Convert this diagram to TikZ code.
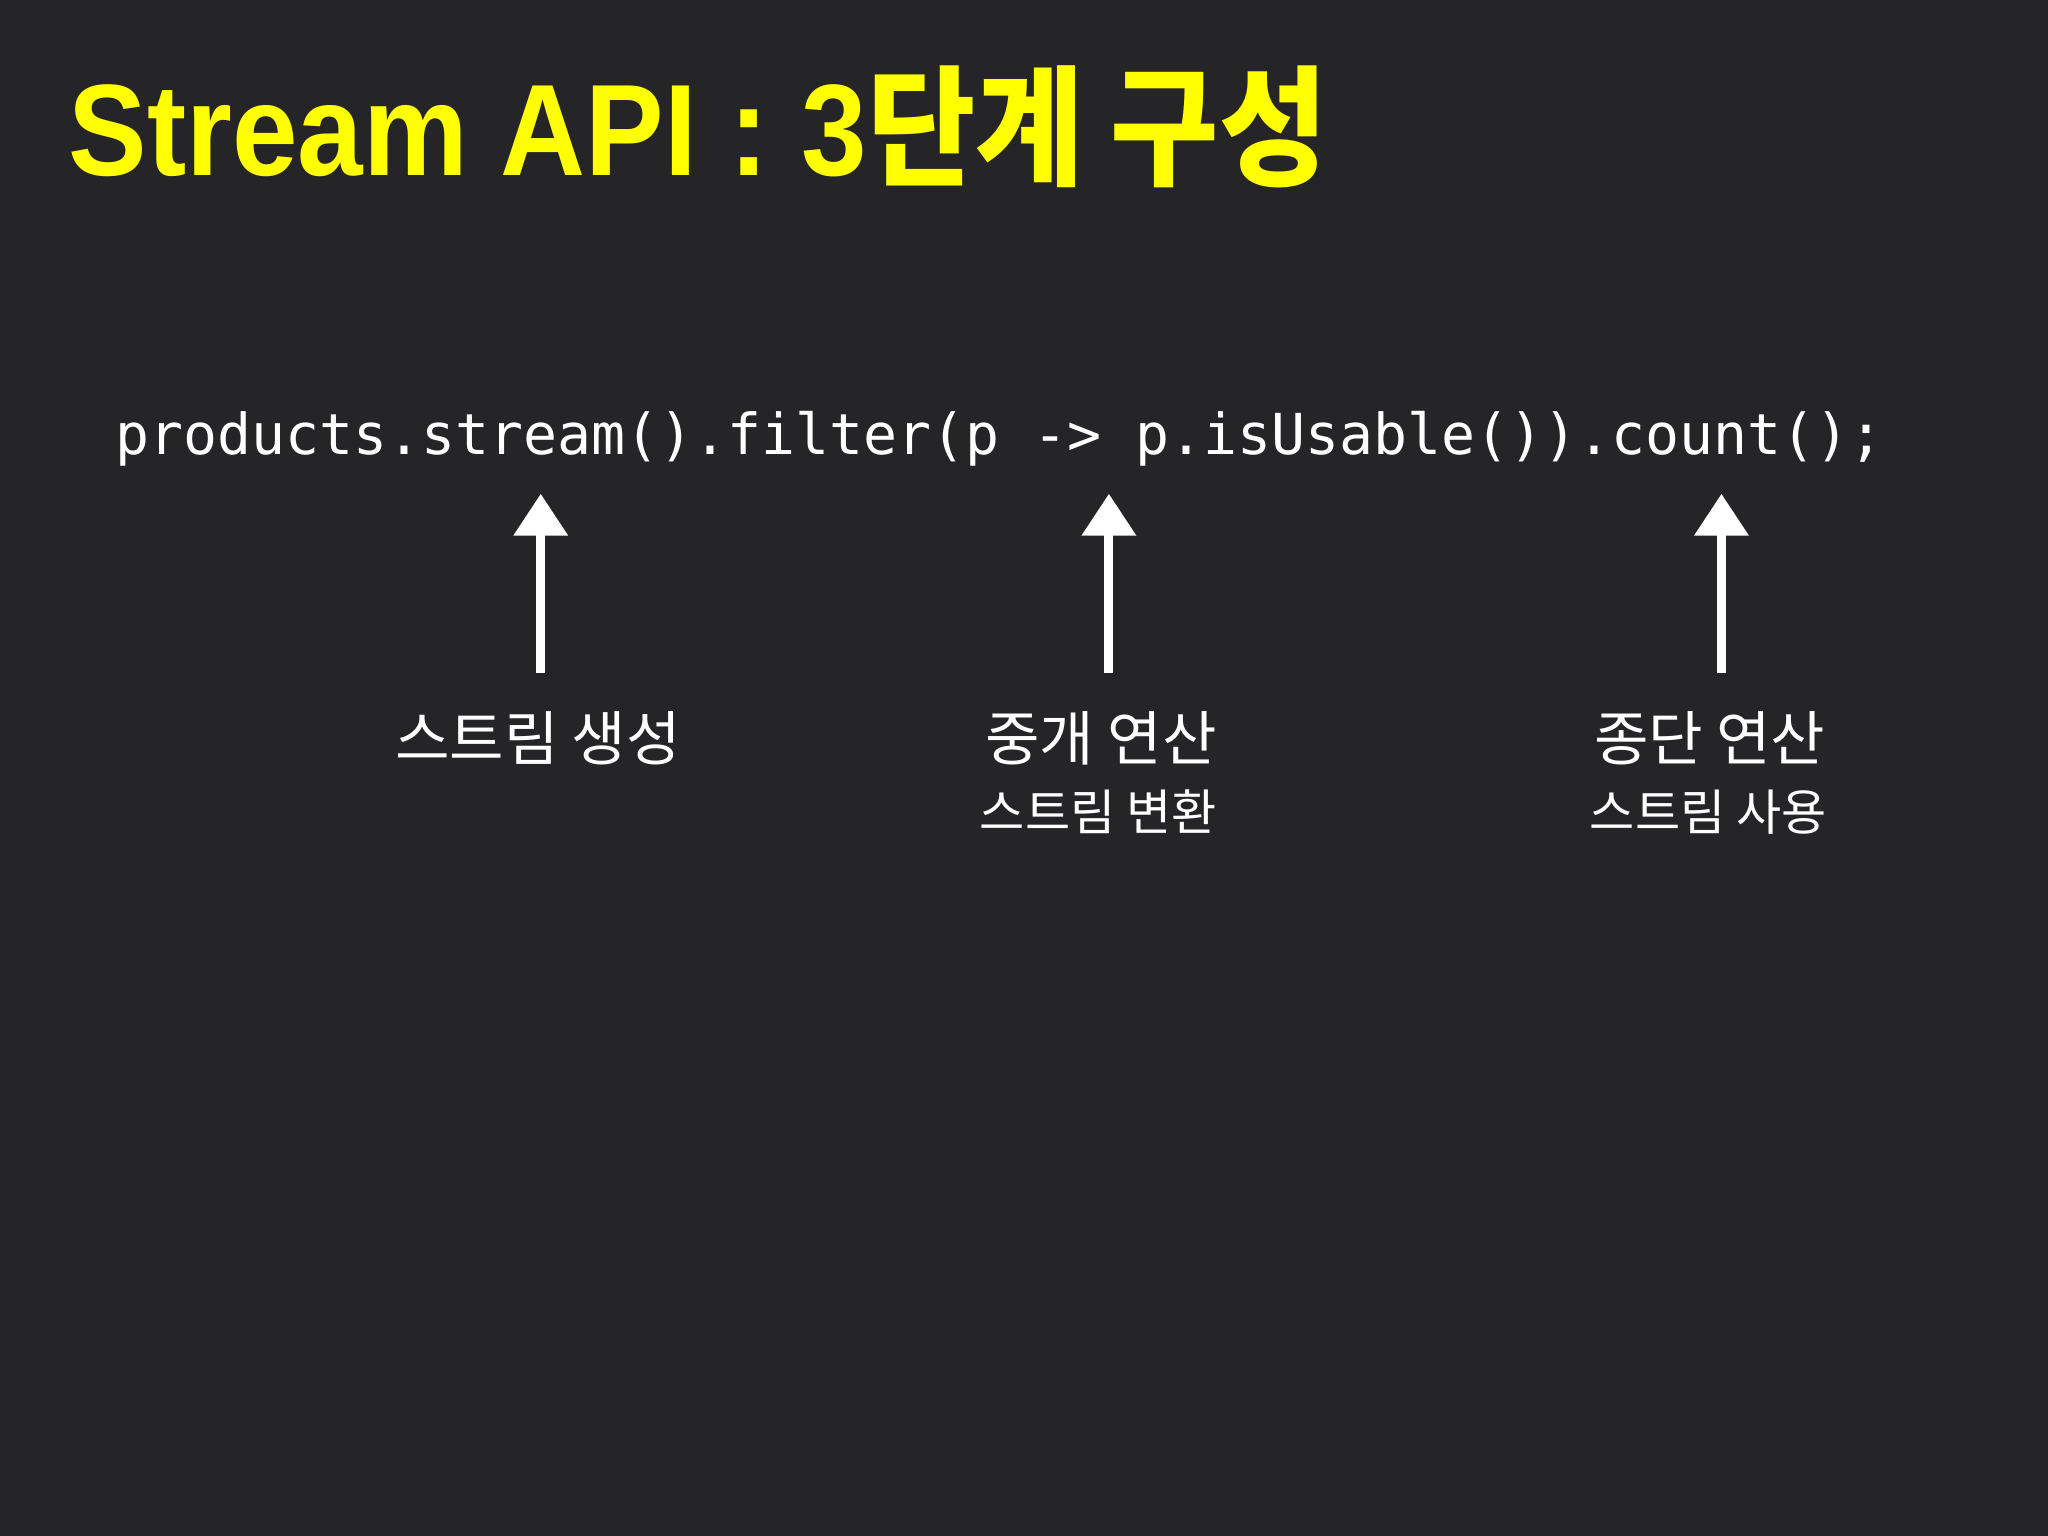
\documentclass[tikz,border=0pt]{standalone}
\usepackage{fontspec}
\setmainfont{Liberation Sans}
\newfontfamily\kr{Noto Sans CJK KR}
\newfontfamily\code{DejaVu Sans Mono}
\usetikzlibrary{arrows.meta}
\definecolor{bg}{HTML}{252527}
\definecolor{ttl}{HTML}{FFFF00}
\begin{document}
\begin{tikzpicture}[x=0.1mm,y=-0.1mm,
  lab/.style={text=white,font=\kr\fontsize{12.9}{14}\selectfont,anchor=base,inner sep=0},
  sub/.style={text=white,font=\kr\fontsize{10.7}{12}\selectfont,anchor=base,inner sep=0},
  arr/.style={white,line width=0.7mm,-{Triangle[width=4mm,length=3.2mm]}}]
\fill[bg] (0,0) rectangle (1568,1176);
\useasboundingbox (0,0) rectangle (1568,1176);
\node[anchor=base west,inner sep=0,text=ttl,font=\bfseries\fontsize{27}{30}\selectfont] (title) at (52,134) {\scalebox{0.95}[1.05]{Stream API : 3{\kr\bfseries 단계 구성}}};
\node[anchor=base west,inner sep=0,text=white,font=\code\fontsize{12.3}{14}\selectfont] (code) at (88,348) {products.stream().filter(p -> p.isUsable()).count();};
\coordinate (s1) at (414,515); \coordinate (e1) at (414,378);
\coordinate (s2) at (849,515); \coordinate (e2) at (849,378);
\coordinate (s3) at (1318,515); \coordinate (e3) at (1318,378);
\draw[arr] (s1) -- (e1);
\draw[arr] (s2) -- (e2);
\draw[arr] (s3) -- (e3);
\node[lab] (l1) at (412,582) {스트림 생성};
\node[lab] (l2) at (843,582) {중개 연산};
\node[sub] (m2) at (841,636) {스트림 변환};
\node[lab] (l3) at (1309,582) {종단 연산};
\node[sub] (m3) at (1308,636) {스트림 사용};
\end{tikzpicture}
\end{document}
